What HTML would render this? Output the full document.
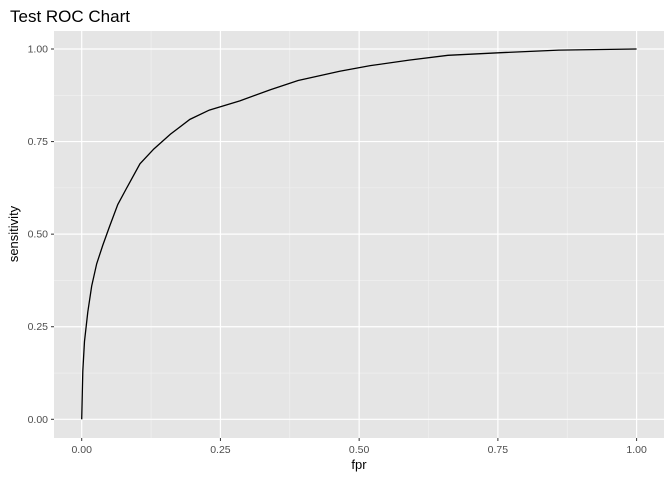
<!DOCTYPE html>
<html><head><meta charset="utf-8"><style>
body{margin:0;background:#fff;}
svg{display:block;font-family:"Liberation Sans",sans-serif;}
</style></head><body>
<svg id="chart" width="672" height="480">
<text x="10" y="22" font-size="17" fill="#000">Test ROC Chart</text>
<rect x="54" y="31" width="610" height="407" fill="#e5e5e5"/>
<g id="grid"></g><g id="axes"></g><g id="series"></g>
<text x="359" y="469" font-size="13" text-anchor="middle" fill="#000">fpr</text>
<text transform="translate(18,234) rotate(-90)" font-size="13" text-anchor="middle" fill="#000">sensitivity</text>
</svg>
<script>
const ticks=[0,0.25,0.5,0.75,1];
const tickLabels=["0.00","0.25","0.50","0.75","1.00"];
const fpr=[0,0.002,0.005,0.011,0.018,0.027,0.038,0.05,0.065,0.083,0.105,0.13,0.16,0.195,0.23,0.285,0.34,0.39,0.465,0.52,0.59,0.66,0.755,0.86,1];
const sensitivity=[0,0.13,0.21,0.29,0.36,0.42,0.47,0.52,0.58,0.63,0.69,0.73,0.77,0.81,0.835,0.86,0.89,0.915,0.94,0.955,0.97,0.983,0.99,0.997,1];
const NS="http://www.w3.org/2000/svg";
const X=v=>81.7+v*554.9, Y=v=>419.3-v*370.3;
function mk(t,a,p){const e=document.createElementNS(NS,t);for(const k in a)e.setAttribute(k,a[k]);p.appendChild(e);return e;}
const g=document.getElementById('grid'),ax=document.getElementById('axes'),s=document.getElementById('series');
for(let i=0;i<ticks.length-1;i++){
 const m=(ticks[i]+ticks[i+1])/2;
 let l=mk('line',{x1:X(m),x2:X(m),y1:31,y2:438,stroke:'#f2f2f2','stroke-width':0.6},g);
 
 l=mk('line',{x1:54,x2:664,y1:Y(m),y2:Y(m),stroke:'#f2f2f2','stroke-width':0.6},g);
 
}
ticks.forEach((t,i)=>{
 let l=mk('line',{x1:X(t),x2:X(t),y1:31,y2:438,stroke:'#fff','stroke-width':1.2},g);
 
 l=mk('line',{x1:54,x2:664,y1:Y(t),y2:Y(t),stroke:'#fff','stroke-width':1.2},g);
 
 mk('line',{x1:X(t),x2:X(t),y1:438,y2:441,stroke:'#333'},ax);
 mk('line',{x1:51,x2:54,y1:Y(t),y2:Y(t),stroke:'#333'},ax);
 let tx=mk('text',{x:X(t),y:453,'font-size':10.5,'text-anchor':'middle',fill:'#4d4d4d'},ax);tx.textContent=tickLabels[i];
 
 tx=mk('text',{x:48,y:Y(t)+3.5,'font-size':10.5,'text-anchor':'end',fill:'#4d4d4d'},ax);tx.textContent=tickLabels[i];
 
});
const pl=mk('polyline',{points:fpr.map((v,i)=>X(v)+','+Y(sensitivity[i])).join(' '),fill:'none',stroke:'#000','stroke-width':1.3},s);


</script>
</body></html>
